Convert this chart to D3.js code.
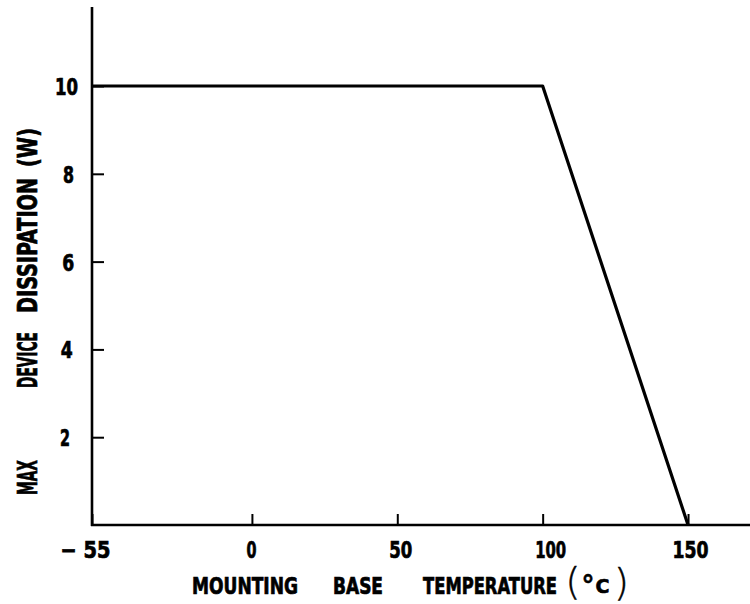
<!DOCTYPE html>
<html>
<head>
<meta charset="utf-8">
<script src="https://cdn.jsdelivr.net/npm/d3@7"></script>
<style>
  html, body { margin: 0; padding: 0; background: #fff; }
  svg { display: block; }
  .lbl { font-family: "DejaVu Sans Condensed", "DejaVu Sans", sans-serif; font-weight: bold; fill: #000; stroke: #000; stroke-width: 0.7; }
</style>
</head>
<body>
<svg id="chart" width="750" height="604"></svg>
<script>
// ---- data ----
const temperature = [-55, 100, 150];      // °C
const dissipation = [10, 10, 0];          // W
const xTicks = [-55, 0, 50, 100, 150];
const xTickLabels = ["\u2212 55", "0", "50", "100", "150"];
const yTicks = [2, 4, 6, 8, 10];
const yTickLabels = ["2", "4", "6", "8", "10"];
const xDomain = [-55, 172];
const yDomain = [0, 11.8];
const xTitleWords = ["MOUNTING", "BASE", "TEMPERATURE"];
const yTitleWords = ["MAX", "DEVICE", "DISSIPATION", "(W)"];
const unitParts = ["(", "\u00B0", "C", ")"];

// ---- layout ----
const svg = d3.select("#chart");
const x = d3.scaleLinear().domain(xDomain).range([92, 752]);
const y = d3.scaleLinear().domain(yDomain).range([525, 7]);

// squeeze a text horizontally to a given width with a real transform
function fit(sel, tx, ty, w, rot) {
  const n = sel.node().getComputedTextLength() || w;
  sel.attr("x", 0).attr("y", 0)
     .attr("transform", `translate(${tx},${ty}) rotate(${rot || 0}) scale(${w / n},1)`);
}

// label fine offsets & widths (layout only)
const xLabelDx = [-7, -1, 3, 7.5, 2];
const xLabelW = [50, 10, 23, 31, 36];
const yLabelW = [10, 12, 12, 11, 23];
const yLabelCx = [65, 66.7, 68.3, 68.5, 66.5];

// x axis (ticks pointing up, inside)
const xAxis = d3.axisBottom(x).tickValues(xTicks).tickSize(-11).tickSizeOuter(0).tickFormat("");
const gx = svg.append("g").attr("transform", `translate(0,${y(0)})`).call(xAxis);
gx.select(".domain").attr("stroke-width", 2.6).attr("d", `M${x(xDomain[0]) - 1},0H750`);
gx.selectAll(".tick line").attr("stroke-width", 2);
gx.selectAll(".tick").each(function(d, i) {
  const t = d3.select(this).append("text")
    .attr("class", "lbl")
    .attr("text-anchor", "middle")
    .attr("font-size", 23)
    .text(xTickLabels[i]);
  fit(t, xLabelDx[i], 33, xLabelW[i]);
});

// y axis (ticks pointing right, inside)
const yAxis = d3.axisLeft(y).tickValues(yTicks).tickSize(-12).tickSizeOuter(0).tickFormat("");
const gy = svg.append("g").attr("transform", `translate(${x(xDomain[0])},0)`).call(yAxis);
gy.select(".domain").attr("stroke-width", 2.6).attr("d", `M0,${y(yDomain[1])}V${y(0) + 1}`);
gy.selectAll(".tick line").attr("stroke-width", 2);
gy.selectAll(".tick").each(function(d, i) {
  const t = d3.select(this).append("text")
    .attr("class", "lbl")
    .attr("text-anchor", "middle")
    .attr("font-size", 23)
    .text(yTickLabels[i]);
  fit(t, yLabelCx[i] - 92, 8.5, yLabelW[i]);
});

// data line
const line = d3.line().x((d, i) => x(temperature[i])).y((d, i) => y(dissipation[i]));
svg.append("path")
  .datum(temperature)
  .attr("d", line)
  .attr("fill", "none")
  .attr("stroke", "#000")
  .attr("stroke-width", 3.2)
  .attr("stroke-linejoin", "round");

// x title
const xTitleCx = [245, 358, 490];
const xTitleW = [106, 50, 134];
xTitleWords.forEach((w, i) => {
  const t = svg.append("text").attr("class", "lbl")
    .attr("text-anchor", "middle")
    .attr("font-size", 23)
    .text(w);
  fit(t, xTitleCx[i], 594, xTitleW[i]);
});
// (°C): separate, side-by-side pieces
const unitX = [565.5, 581.5, 595.5, 614];
const unitY = [594, 594, 593, 595];
const unitSize = [38, 26, 19, 38];
const unitWeight = [200, "bold", "bold", 200];
unitParts.forEach((p, i) => {
  svg.append("text")
    .attr("x", unitX[i]).attr("y", unitY[i])
    .attr("font-family", "DejaVu Sans, sans-serif")
    .attr("font-size", unitSize[i])
    .attr("font-weight", unitWeight[i])
    .attr("fill", "#000")
    .attr("stroke", "#000")
    .attr("stroke-width", i === 2 ? 0.7 : 0.5)
    .text(p);
});

// y title (rotated)
const yTitleCy = [477.5, 360, 245.5, 147.5];
const yTitleW = [35, 56, 135, 39];
yTitleWords.forEach((w, i) => {
  const t = svg.append("text").attr("class", "lbl")
    .attr("text-anchor", "middle")
    .attr("font-size", 26)
    .text(w);
  fit(t, 37, yTitleCy[i], yTitleW[i], -90);
});
</script>
</body>
</html>
